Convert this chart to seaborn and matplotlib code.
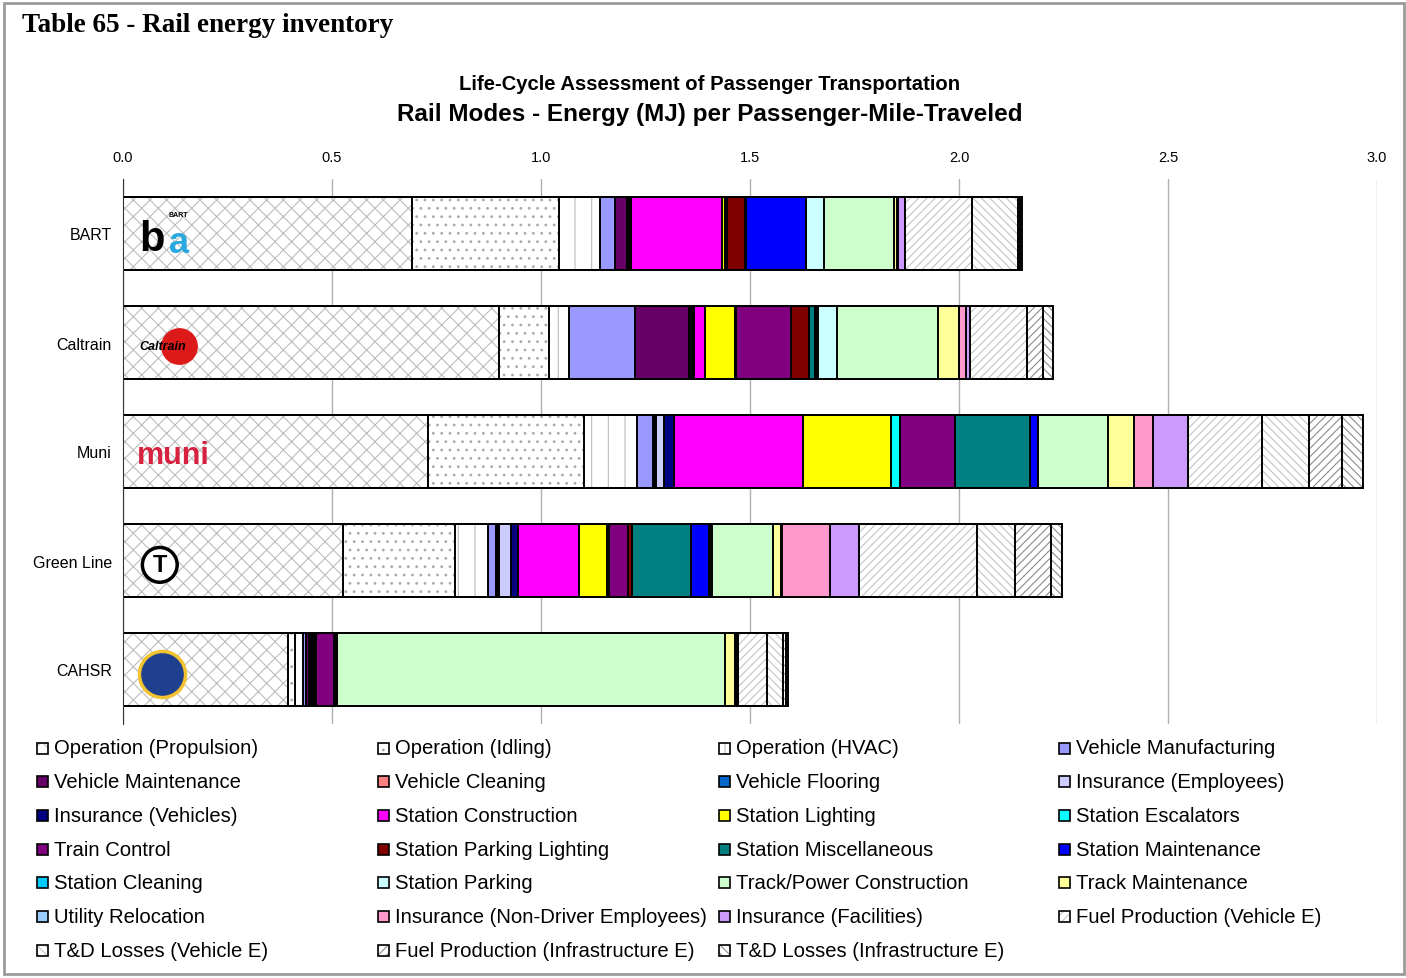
import numpy as np
import pandas as pd
import matplotlib
matplotlib.use("Agg")
import matplotlib.pyplot as plt
from matplotlib.patches import Rectangle
import seaborn as sns

# Categories
modes = ["BART", "Caltrain", "Muni", "Green Line", "CAHSR"]
components = [
    "Operation (Propulsion)", "Operation (Idling)", "Operation (HVAC)", "Vehicle Manufacturing",
    "Vehicle Maintenance", "Vehicle Cleaning", "Vehicle Flooring", "Insurance (Employees)",
    "Insurance (Vehicles)", "Station Construction", "Station Lighting", "Station Escalators",
    "Train Control", "Station Parking Lighting", "Station Miscellaneous", "Station Maintenance",
    "Station Cleaning", "Station Parking", "Track/Power Construction", "Track Maintenance",
    "Utility Relocation", "Insurance (Non-Driver Employees)", "Insurance (Facilities)",
    "Fuel Production (Vehicle E)", "T&D Losses (Vehicle E)",
    "Fuel Production (Infrastructure E)", "T&D Losses (Infrastructure E)",
]

# MJ per PMT, one value per component (same order as components)
bart = [0.691, 0.352, 0.098, 0.036, 0.029, 0.000, 0.003, 0.002, 0.004,
        0.218, 0.006, 0.001, 0.004, 0.045, 0.001, 0.144, 0.000, 0.043,
        0.167, 0.008, 0.001, 0.002, 0.017, 0.160, 0.108, 0.006, 0.004]
caltrain = [0.900, 0.120, 0.048, 0.158, 0.129, 0.002, 0.004, 0.002, 0.004,
            0.026, 0.072, 0.001, 0.131, 0.045, 0.014, 0.005, 0.002, 0.045,
            0.242, 0.050, 0.001, 0.016, 0.009, 0.136, 0.000, 0.038, 0.024]
muni = [0.730, 0.373, 0.127, 0.038, 0.004, 0.001, 0.002, 0.020, 0.022,
        0.309, 0.211, 0.021, 0.132, 0.001, 0.179, 0.019, 0.000, 0.001,
        0.167, 0.062, 0.000, 0.045, 0.084, 0.177, 0.112, 0.079, 0.050]
green_line = [0.526, 0.268, 0.079, 0.019, 0.005, 0.001, 0.002, 0.029, 0.017,
              0.146, 0.065, 0.005, 0.045, 0.010, 0.141, 0.043, 0.003, 0.004,
              0.148, 0.019, 0.001, 0.115, 0.069, 0.282, 0.093, 0.086, 0.026]
cahsr = [0.395, 0.017, 0.019, 0.007, 0.006, 0.001, 0.004, 0.003, 0.006,
         0.002, 0.001, 0.000, 0.043, 0.002, 0.002, 0.002, 0.001, 0.002,
         0.928, 0.022, 0.001, 0.004, 0.004, 0.069, 0.038, 0.007, 0.005]

x_ticks = [0.0, 0.5, 1.0, 1.5, 2.0, 2.5, 3.0]

# styles: (fill colour, hatch, hatch colour)
styles = [
    ("white", "xx", "#BDBDBD"), ("white", "..", "#AAAAAA"), ("white", "|", "#BBBBBB"),
    ("#9999FF", None, None), ("#660066", None, None), ("#FF8080", None, None),
    ("#0066CC", None, None), ("#CCCCFF", None, None), ("#000080", None, None),
    ("#FF00FF", None, None), ("#FFFF00", None, None), ("#00FFFF", None, None),
    ("#800080", None, None), ("#800000", None, None), ("#008080", None, None),
    ("#0000FF", None, None), ("#00CCFF", None, None), ("#CCFFFF", None, None),
    ("#CCFFCC", None, None), ("#FFFF99", None, None), ("#99CCFF", None, None),
    ("#FF99CC", None, None), ("#CC99FF", None, None),
    ("white", "////", "#C4C4C4"), ("white", "\\\\\\\\", "#C4C4C4"),
    ("white", "////", "#8C8C8C"), ("white", "\\\\\\\\", "#8C8C8C"),
]

df = pd.DataFrame({"BART": bart, "Caltrain": caltrain, "Muni": muni,
                   "Green Line": green_line, "CAHSR": cahsr}, index=components).T
cum = df.cumsum(axis=1)

sns.set_style("white")
plt.rcParams['font.family'] = ['Liberation Sans', 'DejaVu Sans']
plt.rcParams['hatch.linewidth'] = 0.8
for key in ["text.color", "axes.labelcolor", "xtick.color", "ytick.color"]:
    plt.rcParams[key] = "black"

W, H = 1406, 979
fig = plt.figure(figsize=(W / 100, H / 100), dpi=100)
ax = fig.add_axes([123 / W, 1 - 725 / H, (1377 - 123) / W, (725 - 180) / H])

# stacked bars: draw cumulative totals from the last component back to the first
for i in reversed(range(len(components))):
    fc, hatch, hc = styles[i]
    d = pd.DataFrame({"mode": modes, "value": cum[components[i]].values})
    sns.barplot(data=d, x="value", y="mode", orient="h", color=fc, saturation=1,
                width=0.67, hatch=hatch, edgecolor=hc if hc else fc, linewidth=0,
                ax=ax, zorder=2)
    sns.barplot(data=d, x="value", y="mode", orient="h", fill=False, color="black",
                width=0.67, linewidth=1.4, ax=ax, zorder=3)

ax.set_xlim(0, 3.0)
ax.set_ylim(4.5, -0.5)
ax.set_xticks(x_ticks)
ax.set_xticklabels([f"{t:.1f}" for t in x_ticks])
ax.xaxis.tick_top()
ax.tick_params(axis="x", length=0, pad=11, labelsize=10.5)
ax.tick_params(axis="y", which="major", length=0, pad=8, labelsize=11.5)
ax.set_yticks(np.arange(-0.5, 5.0, 1.0), minor=True)
ax.tick_params(axis="y", which="minor", length=6, color="#333333", direction="out")
ax.set_xlabel("")
ax.set_ylabel("")
ax.grid(True, axis="x", color="#B0B0B0", linewidth=1, zorder=0)
ax.set_axisbelow(True)
for s in ["top", "right", "bottom"]:
    ax.spines[s].set_visible(False)
ax.spines["left"].set_color("#333333")
ax.spines["left"].set_zorder(4)

# simple logo stand-ins inside the propulsion segment
ax.text(0.04, 0.05, "b", fontsize=30, fontweight="bold", color="black", va="center", zorder=5)
ax.text(0.11, 0.08, "a", fontsize=26, fontweight="bold", color="#29A8E0", va="center", zorder=5)
ax.text(0.11, -0.17, "BART", fontsize=5, fontweight="bold", color="black", va="center", zorder=5)
ax.scatter([0.135], [1.03], s=650, color="#DD1A1A", zorder=5)
ax.text(0.04, 1.03, "Caltrain", fontsize=9, fontstyle="italic", fontweight="bold",
        color="black", va="center", zorder=6)
ax.text(0.12, 2.03, "muni", fontsize=22, fontweight="bold", color="#D6213F",
        va="center", ha="center", zorder=5)
ax.text(0.088, 3.04, "T", fontsize=17, fontweight="bold", color="black", va="center",
        ha="center", zorder=5,
        bbox=dict(boxstyle="circle,pad=0.25", fc="white", ec="black", lw=2.5))
ax.scatter([0.093], [4.04], s=1100, color="#1F3F8F", edgecolor="#F2C230", linewidth=2.5, zorder=5)

# titles
fig.text(22 / W, 1 - 25 / H, "Table 65 - Rail energy inventory", fontsize=19.5,
         fontweight="bold", family=["Liberation Serif", "DejaVu Serif"], va="center")
fig.text(710 / W, 1 - 85 / H, "Life-Cycle Assessment of Passenger Transportation",
         fontsize=14.6, fontweight="bold", ha="center", va="center")
fig.text(710 / W, 1 - 115 / H, "Rail Modes - Energy (MJ) per Passenger-Mile-Traveled",
         fontsize=17.5, fontweight="bold", ha="center", va="center")

# legend laid out row by row, 4 columns
col_x = [37, 378, 719, 1059]
for k, name in enumerate(components):
    r, c = divmod(k, 4)
    x0 = col_x[c]
    yc = 749 + r * 33.7
    fc, hatch, hc = styles[k]
    rect = Rectangle((x0 / W, 1 - (yc + 5.5) / H), 11 / W, 11 / H, transform=fig.transFigure,
                     facecolor=fc, hatch=hatch, edgecolor=hc if hc else fc, linewidth=0)
    fig.add_artist(rect)
    fig.add_artist(Rectangle((x0 / W, 1 - (yc + 5.5) / H), 11 / W, 11 / H,
                             transform=fig.transFigure, facecolor="none",
                             edgecolor="black", linewidth=1.2))
    fig.text((x0 + 17) / W, 1 - yc / H, name, fontsize=14.6, va="center")

# outer frame
fig.add_artist(Rectangle((4 / W, 4 / H), 1400 / W, 971 / H, transform=fig.transFigure,
                         facecolor="none", edgecolor="#9A9A9A", linewidth=2))

fig.savefig("out.png", dpi=100)
